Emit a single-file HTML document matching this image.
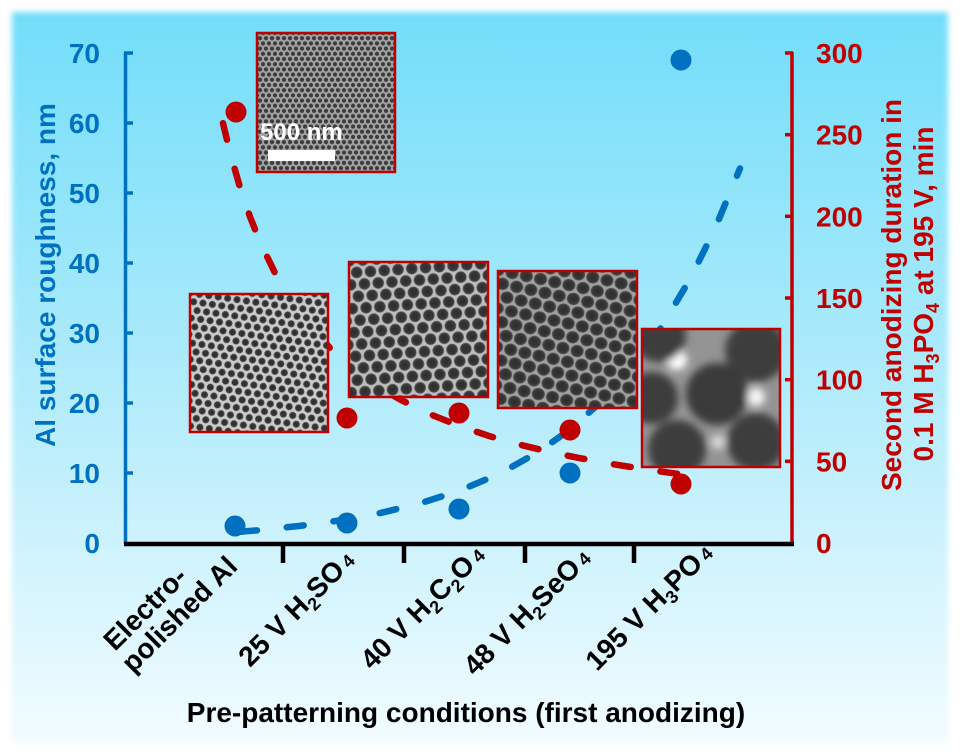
<!DOCTYPE html>
<html>
<head>
<meta charset="utf-8">
<style>
html,body{margin:0;padding:0;background:#ffffff;}
svg{display:block;}
text{font-family:"Liberation Sans",Arial,sans-serif;font-weight:bold;}
</style>
</head>
<body>
<svg width="960" height="756" viewBox="0 0 960 756" xmlns="http://www.w3.org/2000/svg">
<defs>
  <linearGradient id="bg" x1="0" y1="0" x2="0" y2="1">
    <stop offset="0" stop-color="#72def9"/>
    <stop offset="0.45" stop-color="#a9e9fb"/>
    <stop offset="1" stop-color="#f2fcff"/>
  </linearGradient>
  <filter id="soft" x="-5%" y="-5%" width="110%" height="110%">
    <feGaussianBlur stdDeviation="3"/>
  </filter>
  <filter id="blur5" x="-20%" y="-20%" width="140%" height="140%">
    <feGaussianBlur stdDeviation="4"/>
  </filter>
  <radialGradient id="pore">
    <stop offset="0" stop-color="#2c2c2c"/>
    <stop offset="0.75" stop-color="#383838"/>
    <stop offset="1" stop-color="#5c5c5c"/>
  </radialGradient>
  <pattern id="p1" width="6" height="10.392" patternUnits="userSpaceOnUse" patternTransform="translate(257,33)">
    <rect width="6" height="10.392" fill="#a2a2a2"/>
    <circle cx="0" cy="0" r="2.1" fill="#3c3c3c"/>
    <circle cx="6" cy="0" r="2.1" fill="#3c3c3c"/>
    <circle cx="3" cy="5.196" r="2.1" fill="#3c3c3c"/>
    <circle cx="0" cy="10.392" r="2.1" fill="#3c3c3c"/>
    <circle cx="6" cy="10.392" r="2.1" fill="#3c3c3c"/>
  </pattern>
  <pattern id="p2" width="9.5" height="16.454" patternUnits="userSpaceOnUse" patternTransform="translate(190,293) rotate(8)">
    <rect width="9.5" height="16.454" fill="#cacaca"/>
    <circle cx="0" cy="0" r="3.6" fill="url(#pore)"/>
    <circle cx="9.5" cy="0" r="3.6" fill="url(#pore)"/>
    <circle cx="4.75" cy="8.227" r="3.6" fill="url(#pore)"/>
    <circle cx="0" cy="16.454" r="3.6" fill="url(#pore)"/>
    <circle cx="9.5" cy="16.454" r="3.6" fill="url(#pore)"/>
  </pattern>
  <pattern id="p3" width="13.8" height="23.902" patternUnits="userSpaceOnUse" patternTransform="translate(349,261) rotate(-4)">
    <rect width="13.8" height="23.902" fill="#bcbcbc"/>
    <circle cx="0" cy="0" r="5.8" fill="url(#pore)"/>
    <circle cx="13.8" cy="0" r="5.8" fill="url(#pore)"/>
    <circle cx="6.9" cy="11.951" r="5.8" fill="url(#pore)"/>
    <circle cx="0" cy="23.902" r="5.8" fill="url(#pore)"/>
    <circle cx="13.8" cy="23.902" r="5.8" fill="url(#pore)"/>
  </pattern>
  <pattern id="p4" width="14.5" height="25.115" patternUnits="userSpaceOnUse" patternTransform="translate(498,270) rotate(12)">
    <rect width="14.5" height="25.115" fill="#a0a0a0"/>
    <ellipse cx="0" cy="0" rx="6.6" ry="6.2" fill="url(#pore)"/>
    <ellipse cx="14.5" cy="0" rx="6.6" ry="6.2" fill="url(#pore)"/>
    <ellipse cx="7.25" cy="12.56" rx="6.6" ry="6.2" fill="url(#pore)"/>
    <ellipse cx="0" cy="25.115" rx="6.6" ry="6.2" fill="url(#pore)"/>
    <ellipse cx="14.5" cy="25.115" rx="6.6" ry="6.2" fill="url(#pore)"/>
  </pattern>
  <clipPath id="c5"><rect x="642" y="329" width="138" height="138"/></clipPath>
</defs>

<!-- background panel -->
<rect x="12" y="12" width="936" height="731" fill="url(#bg)" filter="url(#soft)"/>

<!-- axes -->
<g stroke="#0070c0" stroke-width="3.5" fill="none">
  <line x1="125.5" y1="52" x2="125.5" y2="544"/>
  <line x1="124" y1="53" x2="133" y2="53"/>
  <line x1="124" y1="123" x2="133" y2="123"/>
  <line x1="124" y1="193" x2="133" y2="193"/>
  <line x1="124" y1="263" x2="133" y2="263"/>
  <line x1="124" y1="333" x2="133" y2="333"/>
  <line x1="124" y1="403" x2="133" y2="403"/>
  <line x1="124" y1="473" x2="133" y2="473"/>
</g>
<g stroke="#c00000" stroke-width="3.5" fill="none">
  <line x1="792" y1="52" x2="792" y2="546"/>
  <line x1="785" y1="53" x2="793" y2="53"/>
  <line x1="785" y1="134.7" x2="793" y2="134.7"/>
  <line x1="785" y1="216.3" x2="793" y2="216.3"/>
  <line x1="785" y1="298" x2="793" y2="298"/>
  <line x1="785" y1="379.7" x2="793" y2="379.7"/>
  <line x1="785" y1="461.3" x2="793" y2="461.3"/>
</g>
<g stroke="#000" stroke-width="4.5" fill="none">
  <line x1="124" y1="544" x2="794" y2="544"/>
  <line x1="283" y1="544" x2="283" y2="563"/>
  <line x1="404" y1="544" x2="404" y2="563"/>
  <line x1="525" y1="544" x2="525" y2="563"/>
  <line x1="634" y1="544" x2="634" y2="563"/>
</g>

<!-- trend lines -->
<polyline fill="none" stroke="#c00000" stroke-width="6.5" stroke-linecap="round" stroke-dasharray="17 30"
  points="223,123.2 230,152.3 240,187.4 250,216.8 260,241.9 275,273 290,298.6 310,326 330,348 350,366.1 375,384.5 400,399.5 430,414.2 460,426.2 490,436.3 520,444.7 550,452 580,458.2 610,463.7 640,468.5 670,472.8 706,477.4"/>
<polyline fill="none" stroke="#0070c0" stroke-width="6.5" stroke-linecap="round" stroke-dasharray="17 30"
  points="240,531.8 260,530.1 300,525.9 340,520.4 380,513.1 420,503.4 460,490.5 500,473.5 540,451 570,429.4 600,402.8 630,369.9 660,329.3 690,279.2 715,228.6 740,168.4"/>

<!-- insets -->
<rect x="257" y="33" width="138" height="139" fill="url(#p1)" stroke="#c00000" stroke-width="2.5"/>
<text x="260" y="140" font-size="24" fill="#ffffff">500 nm</text>
<rect x="268" y="150" width="67" height="11" fill="#ffffff"/>

<rect x="190" y="294" width="138" height="138" fill="url(#p2)" stroke="#c00000" stroke-width="2.5"/>
<rect x="349" y="262" width="139" height="135" fill="url(#p3)" stroke="#c00000" stroke-width="2.5"/>
<rect x="498" y="271" width="139" height="137" fill="url(#p4)" stroke="#c00000" stroke-width="2.5"/>

<g clip-path="url(#c5)">
  <rect x="642" y="329" width="138" height="138" fill="#949494"/>
  <g filter="url(#blur5)">
    <circle cx="677" cy="360" r="10" fill="#ffffff"/>
    <circle cx="756" cy="397" r="9" fill="#f6f6f6"/>
    <circle cx="718" cy="442" r="7" fill="#dcdcdc"/>
    <circle cx="659" cy="335" r="27" fill="#3c3c3c"/>
    <circle cx="756" cy="351" r="31" fill="#3c3c3c"/>
    <circle cx="652" cy="398" r="26" fill="#3c3c3c"/>
    <circle cx="717" cy="394" r="31" fill="#3a3a3a"/>
    <circle cx="677" cy="449" r="29" fill="#3c3c3c"/>
    <circle cx="756" cy="442" r="29" fill="#3c3c3c"/>
  </g>
</g>
<rect x="642" y="329" width="138" height="138" fill="none" stroke="#c00000" stroke-width="2.5"/>

<!-- markers -->
<g fill="#0070c0">
  <circle cx="235" cy="526" r="10.5"/>
  <circle cx="347" cy="523" r="10.5"/>
  <circle cx="459" cy="509" r="10.5"/>
  <circle cx="570" cy="473" r="10.5"/>
  <circle cx="681" cy="60" r="10.5"/>
</g>
<g fill="#c00000">
  <circle cx="236" cy="112" r="10.5"/>
  <circle cx="347" cy="418" r="10.5"/>
  <circle cx="459" cy="413" r="10.5"/>
  <circle cx="570" cy="430" r="10.5"/>
  <circle cx="681" cy="484" r="10.5"/>
</g>

<!-- left tick labels -->
<g font-size="28" fill="#0070c0" text-anchor="end">
  <text x="100" y="63">70</text>
  <text x="100" y="133">60</text>
  <text x="100" y="203">50</text>
  <text x="100" y="273">40</text>
  <text x="100" y="343">30</text>
  <text x="100" y="413">20</text>
  <text x="100" y="483">10</text>
  <text x="100" y="553">0</text>
</g>
<!-- right tick labels -->
<g font-size="28" fill="#c00000" text-anchor="start">
  <text x="816" y="63">300</text>
  <text x="816" y="144.7">250</text>
  <text x="816" y="226.3">200</text>
  <text x="816" y="308">150</text>
  <text x="816" y="389.7">100</text>
  <text x="816" y="471.3">50</text>
  <text x="816" y="553">0</text>
</g>

<!-- axis titles -->
<text transform="translate(55,275) rotate(-90)" font-size="28" fill="#0070c0" text-anchor="middle">Al surface roughness, nm</text>
<text transform="translate(901,295) rotate(-90)" font-size="28" fill="#c00000" text-anchor="middle">Second anodizing duration in</text>
<text transform="translate(933,294) rotate(-90)" font-size="28" fill="#c00000" text-anchor="middle">0.1 M H<tspan font-size="18" dy="6">3</tspan><tspan dy="-6">PO</tspan><tspan font-size="18" dy="6">4</tspan><tspan dy="-6"> at 195 V, min</tspan></text>

<text x="466" y="722" font-size="28" fill="#000" text-anchor="middle">Pre-patterning conditions (first anodizing)</text>

<!-- category labels -->
<g font-size="28" fill="#000">
  <text transform="translate(115,652) rotate(-45)">Electro-</text>
  <text transform="translate(133,674) rotate(-45)">polished Al</text>
  <text transform="translate(250,668) rotate(-45)">25 V H<tspan font-size="18" dy="6">2</tspan><tspan dy="-6">SO</tspan><tspan font-size="18" dx="4">4</tspan></text>
  <text transform="translate(372,671) rotate(-45)">40 V H<tspan font-size="18" dy="6">2</tspan><tspan dy="-6">C</tspan><tspan font-size="18" dy="6">2</tspan><tspan dy="-6">O</tspan><tspan font-size="18" dx="4">4</tspan></text>
  <text transform="translate(475,677) rotate(-45)">48 V H<tspan font-size="18" dy="6">2</tspan><tspan dy="-6">SeO</tspan><tspan font-size="18" dx="4">4</tspan></text>
  <text transform="translate(597,672) rotate(-45)">195 V H<tspan font-size="18" dy="6">3</tspan><tspan dy="-6">PO</tspan><tspan font-size="18" dx="4">4</tspan></text>
</g>
</svg>
</body>
</html>
